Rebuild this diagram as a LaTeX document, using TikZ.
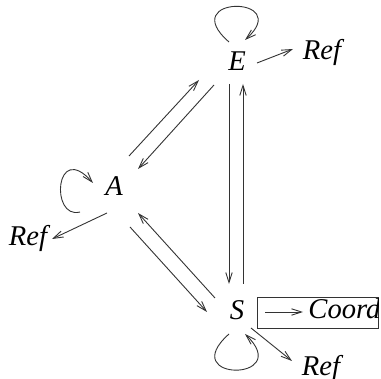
\documentclass[tikz,border=0pt]{standalone}
\usepackage{fontspec}
\setmainfont{Liberation Serif}
\usepackage{tikz}
\usetikzlibrary{arrows.meta}

\begin{document}
\begin{tikzpicture}[x=0.5pt, y=-0.5pt, line width=0.45pt, draw=black!80,
    tip/.style={-{Straight Barb[length=5pt,width=3.2pt]}},
    lbl/.style={anchor=base, inner sep=0pt, font=\fontsize{14.3}{17}\selectfont\itshape}]
        \useasboundingbox (0,0) rectangle (381,379);

        % States
        \node[lbl] (E) at (237,71) {E};
        \node[lbl] (A) at (114,196) {A};
        \node[lbl] (S) at (237,320) {S};

        % Outputs
        \node[lbl] (refE) at (322,60) {Ref};
        \node[lbl] (refA) at (28,246) {Ref};
        \node[lbl] (refS) at (321,376) {Ref};
        \node[draw, minimum width=60.5pt, minimum height=15.5pt, inner sep=0pt] (coordbox) at (317.5,312.5) {};
        \begin{scope}
          \clip (coordbox.south west) rectangle (coordbox.north east);
          \node[lbl, anchor=base west] (coord) at (308,319) {Coord};
        \end{scope}

        % End points of the connectors
        \coordinate (E_sw1) at (199,80);
        \coordinate (E_sw2) at (214,85);
        \coordinate (E_s1) at (229,84);
        \coordinate (E_s2) at (243,84);
        \coordinate (E_ne) at (257,63);
        \coordinate (refE_w) at (293,49);
        \coordinate (A_ne1) at (129,156);
        \coordinate (A_ne2) at (138,169);
        \coordinate (A_se1) at (130,227);
        \coordinate (A_se2) at (138,213);
        \coordinate (A_sw) at (107,213);
        \coordinate (refA_e) at (52,239);
        \coordinate (S_nw1) at (207,312);
        \coordinate (S_nw2) at (215,298);
        \coordinate (S_n1) at (229,284);
        \coordinate (S_n2) at (243,284);
        \coordinate (S_se) at (251,328);
        \coordinate (refS_nw) at (292,361);
        \coordinate (coord_in) at (265,312);
        \coordinate (coord_out) at (303,312);

        % Loop ends
        \coordinate (E_loop_a) at (229,42);
        \coordinate (E_loop_b) at (245,40);
        \coordinate (A_loop_a) at (80,212);
        \coordinate (A_loop_b) at (93,183);
        \coordinate (S_loop_a) at (229,334);
        \coordinate (S_loop_b) at (245,334);

        % Transitions
        \draw[tip] (A_ne1) -- (E_sw1);
        \draw[tip] (E_sw2) -- (A_ne2);
        \draw[tip] (A_se1) -- (S_nw1);
        \draw[tip] (S_nw2) -- (A_se2);
        \draw[tip] (E_s1) -- (S_n1);
        \draw[tip] (S_n2) -- (E_s2);

        % Self loops
        \draw[tip] (E_loop_a) .. controls (175,-5) and (295,-5) .. (E_loop_b);
        \draw[tip] (A_loop_a) .. controls (50,220) and (55,140) .. (A_loop_b);
        \draw[tip] (S_loop_a) .. controls (175,382) and (295,382) .. (S_loop_b);

        % Outputs
        \draw[tip] (E_ne) -- (refE_w);
        \draw[tip] (A_sw) -- (refA_e);
        \draw[tip] (S_se) -- (refS_nw);
        \draw[tip] (coord_in) -- (coord_out);
      \end{tikzpicture}
\end{document}
